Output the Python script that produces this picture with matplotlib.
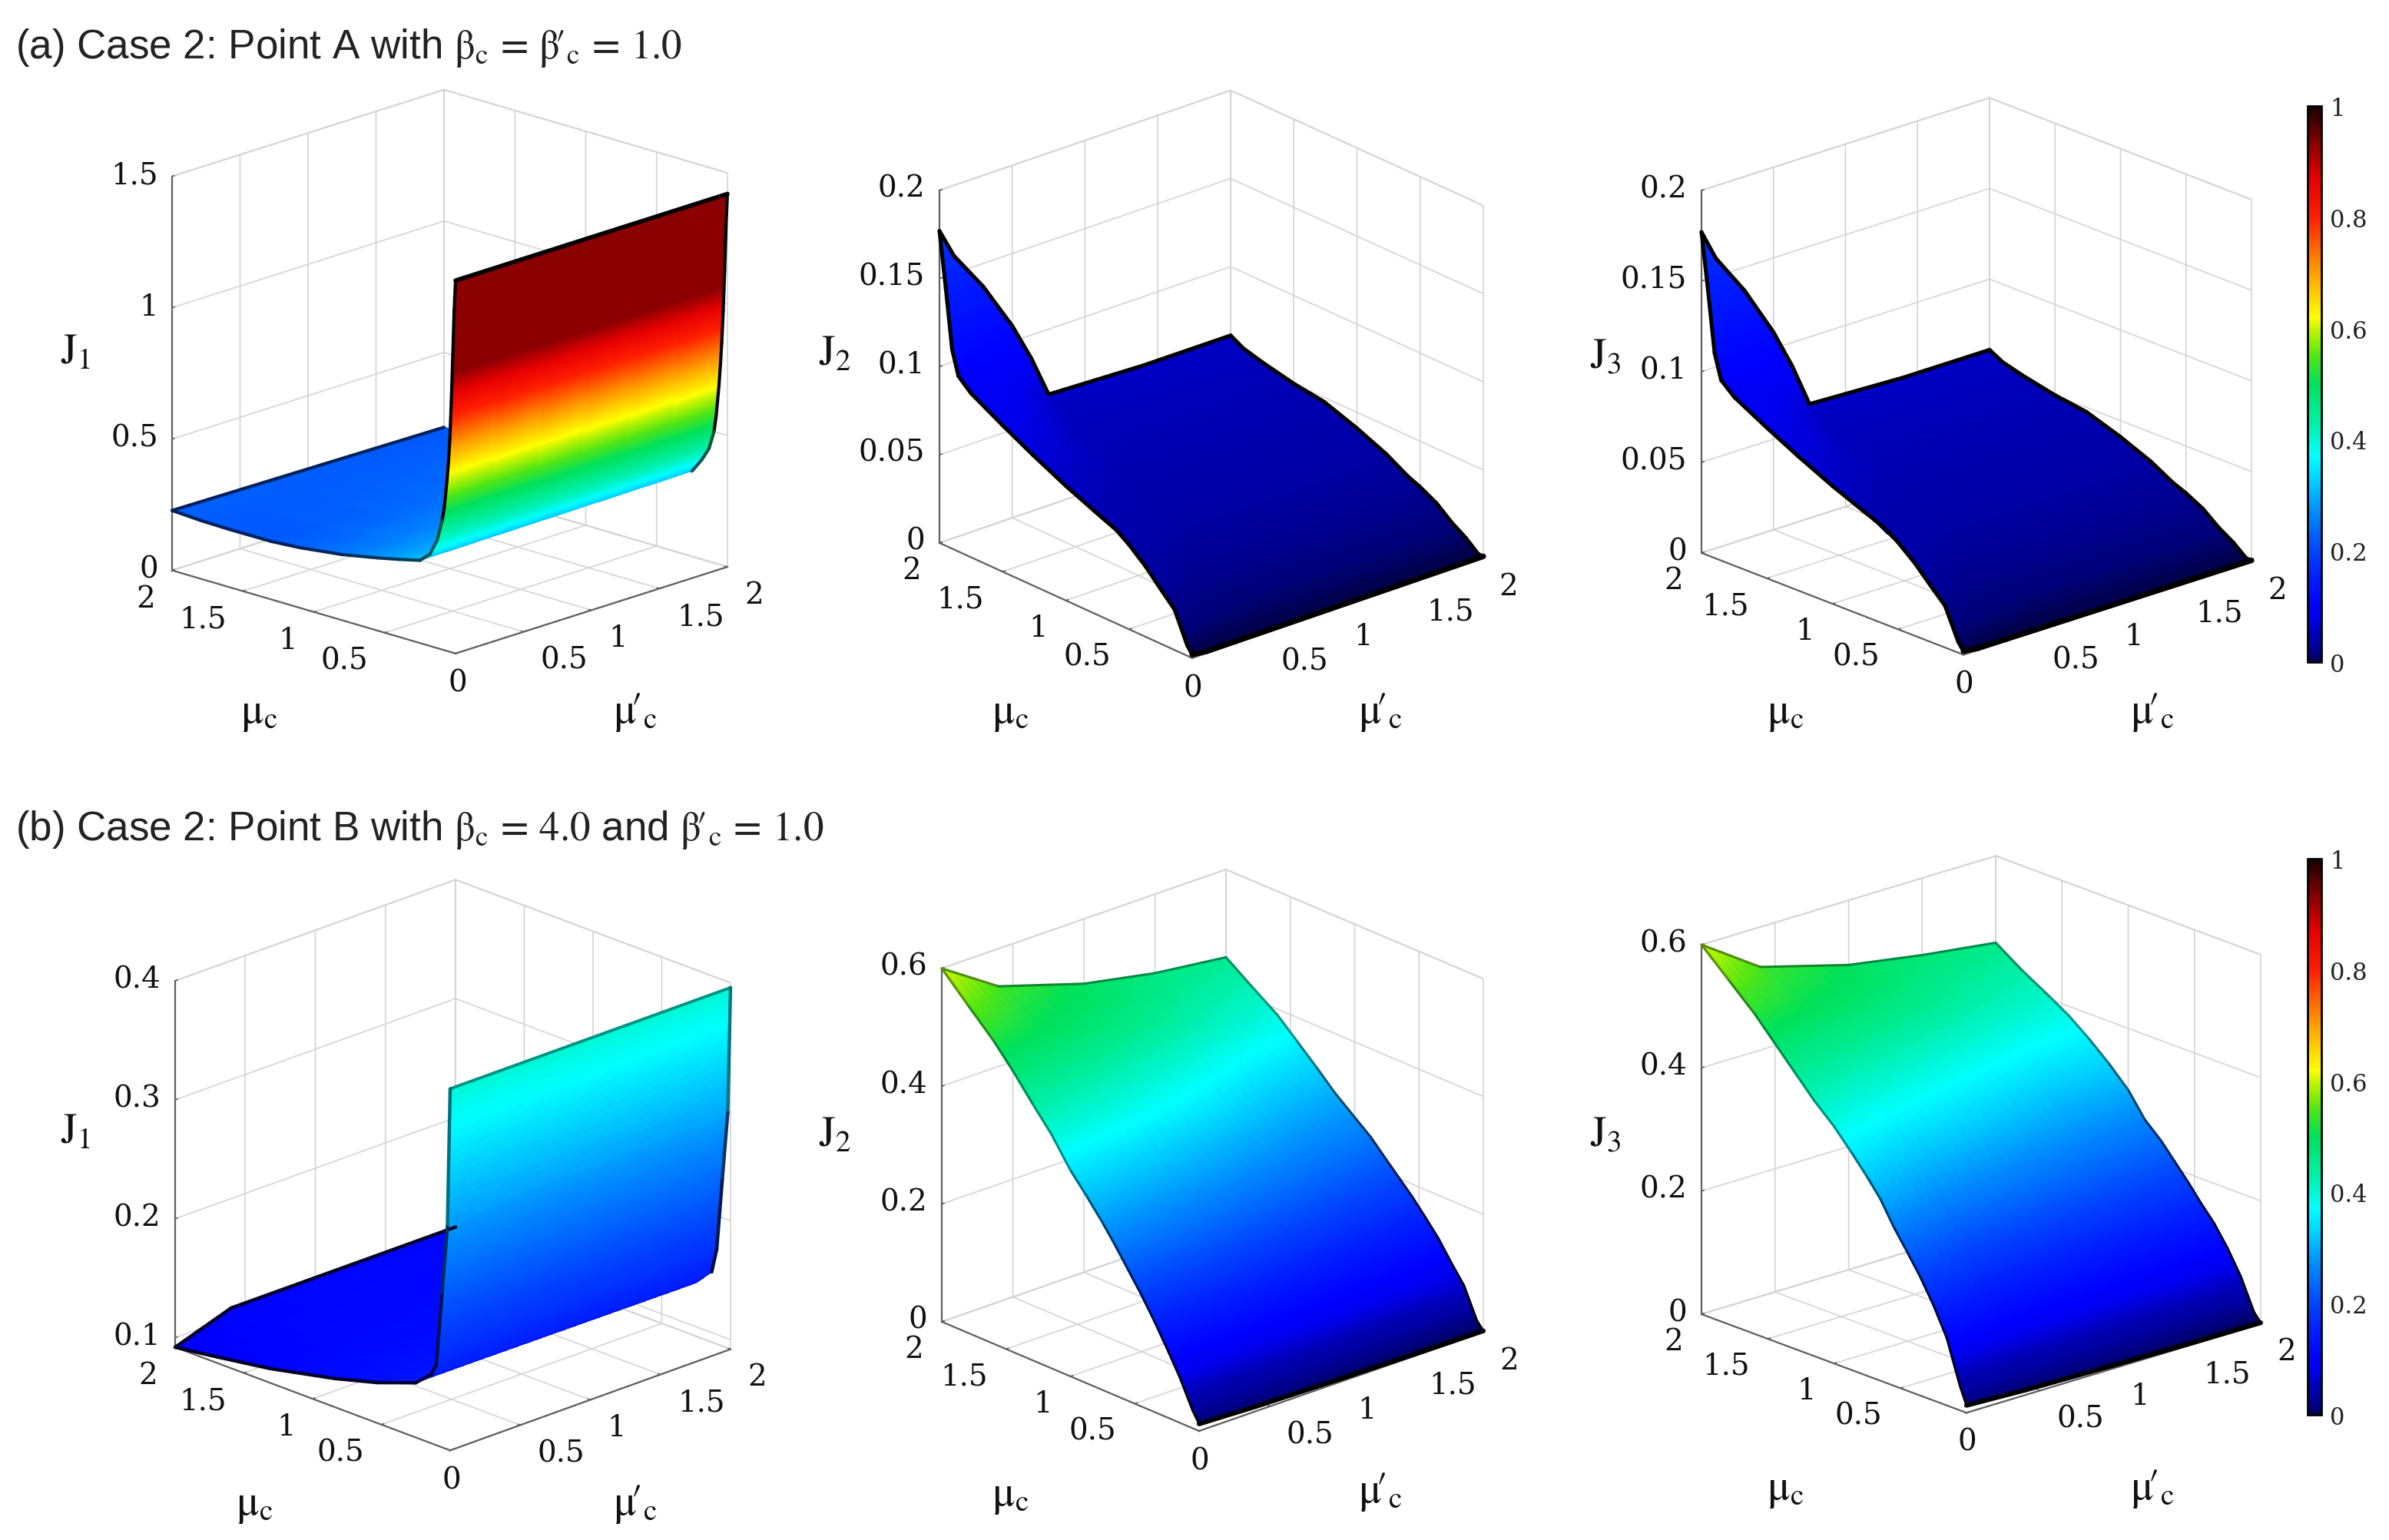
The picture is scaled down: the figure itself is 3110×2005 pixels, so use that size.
import numpy as np
import matplotlib
matplotlib.use("Agg")
import matplotlib.pyplot as plt
from matplotlib.colors import LinearSegmentedColormap, Normalize
from matplotlib.cm import ScalarMappable
from matplotlib.transforms import Affine2D
from mpl_toolkits.mplot3d import proj3d
from mpl_toolkits.mplot3d.art3d import Line3DCollection

plt.rcParams['font.family'] = ['DejaVu Serif', 'Liberation Serif']
plt.rcParams['mathtext.fontset'] = 'stix'

# ---------- data ----------
TITLE_A = r"(a) Case 2: Point A with $\mathrm{\beta_c\,=\,\beta\!\prime_c\,=\,1.0}$"
TITLE_B = r"(b) Case 2: Point B with $\mathrm{\beta_c\,=\,4.0}$ and $\mathrm{\beta\!\prime_c\,=\,1.0}$"

MU_TICKS = [0, 0.5, 1, 1.5, 2]
# both mu axes share the one "0" at the front corner
MU_X_LABELS = ['0', '0.5', '1', '1.5', '2']
MU_Y_LABELS = ['', '0.5', '1', '1.5', '2']

# J1, point A: columns are mu_c' nodes, rows are mu_c nodes
J1A_X = [0, 2]
J1A_Y = [0, 0.01, 0.02, 0.03, 0.04, 0.05, 0.06, 0.08, 0.095, 0.13, 0.18, 0.25, 0.4, 0.55, 0.8, 1.1, 1.3, 1.6, 1.8, 2]
J1A_Z = [[1.42, 1.42], [1.30, 1.30], [1.12, 1.12], [0.95, 0.97], [0.81, 0.85], [0.72, 0.76],
         [0.65, 0.68], [0.54, 0.56], [0.49, 0.50], [0.41, 0.43], [0.35, 0.38], [0.315, 0.325],
         [0.295, 0.305], [0.277, 0.295], [0.25, 0.275], [0.229, 0.255], [0.221, 0.245],
         [0.22, 0.23], [0.222, 0.222], [0.228, 0.215]]

# J2 and J3, point A (same read-off within the accuracy of the picture)
J2A_X = [0, 0.1, 0.3, 0.5, 0.63, 0.75, 1.4, 2]
J2A_Y = [0, 0.04, 0.14, 0.25, 0.37, 0.5, 0.6, 0.77, 1, 1.26, 1.5, 1.75, 1.85, 1.9, 1.95, 2]
J2A_Z = [[.002, .001, .001, .001, .001, .001, .001, .001],
         [.006, .003, .002, .002, .002, .002, .002, .001],
         [.023, .013, .009, .007, .007, .007, .007, .007],
         [.031, .020, .014, .012, .012, .012, .012, .012],
         [.040, .029, .021, .019, .019, .019, .019, .019],
         [.048, .036, .028, .024, .024, .024, .024, .024],
         [.053, .041, .033, .028, .027, .027, .027, .027],
         [.058, .048, .040, .035, .034, .034, .034, .034],
         [.065, .056, .048, .043, .041, .041, .041, .041],
         [.074, .066, .057, .052, .048, .048, .048, .0475],
         [.083, .076, .068, .057, .052, .050, .050, .050],
         [.093, .087, .079, .067, .058, .054, .054, .054],
         [.0995, .093, .085, .073, .063, .056, .056, .056],
         [.113, .100, .090, .077, .066, .057, .057, .057],
         [.146, .125, .105, .085, .070, .059, .059, .059],
         [.177, .160, .137, .109, .087, .063, .061, .061]]

# J1, point B
J1B_X = [0, 0.4, 2]
J1B_Y = [0, 0.02, 0.06, 0.1, 0.137, 0.25, 0.53, 0.84, 1.31, 1.7, 2]
J1B_Z = [[0.396, 0.396, 0.396], [0.279, 0.285, 0.290], [0.220, 0.225, 0.232], [0.160, 0.165, 0.172],
         [0.150, 0.150, 0.151], [0.138, 0.138, 0.137], [0.126, 0.127, 0.128], [0.116, 0.119, 0.122],
         [0.104, 0.110, 0.115], [0.097, 0.108, 0.112], [0.092, 0.108, 0.108]]

# J2, point B
JB_X = [0, 0.4, 1, 1.5, 2]
JB_Y = [0, .05, .15, .25, .35, .45, .55, .65, .75, .875, 1, 1.15, 1.3, 1.45, 1.6, 1.8, 2]
J2B_Z = [[.012, .008, .005, .003, .002],
         [.030, .027, .022, .018, .015],
         [.077, .075, .071, .068, .065],
         [.117, .113, .106, .100, .095],
         [.155, .150, .141, .133, .127],
         [.190, .183, .172, .161, .153],
         [.222, .214, .200, .188, .178],
         [.254, .244, .226, .211, .200],
         [.284, .272, .252, .235, .222],
         [.318, .305, .283, .263, .250],
         [.350, .335, .310, .287, .272],
         [.398, .380, .350, .318, .2985],
         [.437, .417, .385, .350, .330],
         [.478, .455, .420, .385, .360],
         [.515, .490, .455, .420, .390],
         [.557, .512, .480, .445, .420],
         [.600, .536, .490, .466, .451]]

# J3, point B
J3B_Z = [[.012, .008, .005, .003, .002],
         [.040, .030, .024, .018, .015],
         [.110, .090, .076, .070, .065],
         [.155, .130, .115, .107, .103],
         [.193, .165, .150, .140, .135],
         [.226, .195, .180, .170, .160],
         [.258, .230, .212, .197, .187],
         [.295, .262, .240, .222, .212],
         [.323, .290, .265, .248, .237],
         [.355, .325, .298, .278, .262],
         [.385, .355, .330, .306, .300],
         [.415, .390, .360, .340, .332],
         [.450, .425, .395, .370, .360],
         [.485, .460, .430, .400, .385],
         [.520, .495, .460, .430, .405],
         [.560, .515, .485, .450, .430],
         [.600, .535, .495, .475, .459]]

CB_TICKS = [0, 0.2, 0.4, 0.6, 0.8, 1]
CB_LABELS = ['0', '0.2', '0.4', '0.6', '0.8', '1']

# ---------- styles ----------
CMAP_STOPS = [(0, (0, 0, 70)), (.01, (0, 0, 120)), (.03, (0, 0, 160)), (.05, (0, 0, 180)),
              (.08, (0, 0, 240)), (.1, (0, 0, 255)), (.15, (0, 30, 255)),
              (.2, (0, 70, 255)), (.27, (0, 140, 255)), (.33, (0, 210, 255)), (.37, (0, 255, 255)),
              (.43, (0, 240, 170)), (.5, (0, 225, 90)), (.55, (80, 230, 20)), (.6, (200, 245, 0)),
              (.62, (255, 255, 0)), (.7, (255, 160, 0)), (.8, (255, 30, 0)), (.87, (230, 0, 0)),
              (.93, (140, 0, 0)), (1, (25, 0, 0))]
CMAP = LinearSegmentedColormap.from_list(
    'jetdark', [(v, tuple(c / 255 for c in rgb)) for v, rgb in CMAP_STOPS], N=768)
NORM = Normalize(0, 1)

W, H = 3110, 2006
DPI = 200
TICK_FS = 14
LABEL_FS = 20
GRID_C = '#d4d4d4'
AXIS_C = '#606060'

MU_C = r"$\mathrm{\mu_c}$"
MU_CP = r"$\mathrm{\mu\!\prime_c}$"

# colour lookup of the two kinds of J1 wall: (z nodes, colour-value nodes)
CMAP_A1 = ([0, .4, 1.07, 1.5], [0, .4, .93, .93])
CMAP_ID = ([0, 1], [0, 1])

# pixel shifts of the tick labels from where mplot3d puts them
SHIFT_X = (0, 20)
SHIFT_Y = (0, 20)
SHIFT_Z = (26, 20)
SHIFT_0 = (-20, 18)

# layout: pixel positions of box corners (front, left, right, top of left edge) and of the axis labels
PANELS = [
    dict(x=J1A_X, y=J1A_Y, z=J1A_Z, zlim=(0, 1.5), zt=[0, .5, 1, 1.5], ztl=['0', '0.5', '1', '1.5'],
         name='J_1', F=(593, 852), L=(224, 743), R=(947, 740), T=(224, 230), cm=CMAP_A1,
         lw=(2.0, 1.5), edge=0.0, low=(0.5, 0.35), xedge_stop=0.25,
         lab=((337, 928), (827, 928), (99, 458))),
    dict(x=J2A_X, y=J2A_Y, z=J2A_Z, zlim=(0, .2), zt=[0, .05, .1, .15, .2],
         ztl=['0', '0.05', '0.1', '0.15', '0.2'],
         name='J_2', F=(1552, 858), L=(1223, 707), R=(1931, 729), T=(1223, 248), cm=CMAP_ID,
         lw=(2.6, 1.8), edge=0.0, low=None, xedge_stop=2,
         lab=((1315, 928), (1797, 928), (1087, 460))),
    dict(x=J2A_X, y=J2A_Y, z=J2A_Z, zlim=(0, .2), zt=[0, .05, .1, .15, .2],
         ztl=['0', '0.05', '0.1', '0.15', '0.2'],
         name='J_3', F=(2556, 853), L=(2215, 722), R=(2931, 731), T=(2215, 250), cm=CMAP_ID,
         lw=(2.6, 1.8), edge=0.0, low=None, xedge_stop=2,
         lab=((2324, 928), (2802, 928), (2090, 464))),
    dict(x=J1B_X, y=J1B_Y, z=J1B_Z, zlim=(.092, .4), zt=[.1, .2, .3, .4], ztl=['0.1', '0.2', '0.3', '0.4'],
         name='J_1', F=(586, 1889), L=(228, 1756), R=(951, 1756), T=(228, 1279), cm=CMAP_ID,
         lw=(1.4, 1.6), edge=0.6, low=None, xedge_stop=0.2,
         lab=((331, 1959), (827, 1959), (99, 1473))),
    dict(x=JB_X, y=JB_Y, z=J2B_Z, zlim=(0, .6), zt=[0, .2, .4, .6], ztl=['0', '0.2', '0.4', '0.6'],
         name='J_2', F=(1561, 1863), L=(1226, 1725), R=(1931, 1730), T=(1226, 1265), cm=CMAP_ID,
         lw=(2.2, 1.1), edge=0.6, low=None, xedge_stop=2,
         lab=((1315, 1947), (1797, 1943), (1087, 1477))),
    dict(x=JB_X, y=JB_Y, z=J3B_Z, zlim=(0, .6), zt=[0, .2, .4, .6], ztl=['0', '0.2', '0.4', '0.6'],
         name='J_3', F=(2560, 1840), L=(2215, 1713), R=(2943, 1723), T=(2215, 1232), cm=CMAP_ID,
         lw=(2.2, 1.1), edge=0.6, low=None, xedge_stop=2,
         lab=((2324, 1939), (2802, 1939), (2090, 1477))),
]


def shade_mesh(xs, ys, zs, nx=6, ny=16):
    """Gouraud-like colour shading between the typed mesh nodes (MATLAB 'shading interp')."""
    xs, ys, zs = np.asarray(xs, float), np.asarray(ys, float), np.asarray(zs, float)
    xf = np.concatenate([np.linspace(a, b, nx, endpoint=False) for a, b in zip(xs[:-1], xs[1:])] + [[xs[-1]]])
    yf = np.concatenate([np.linspace(a, b, ny, endpoint=False) for a, b in zip(ys[:-1], ys[1:])] + [[ys[-1]]])
    tmp = np.array([np.interp(xf, xs, row) for row in zs])
    zf = np.array([np.interp(yf, ys, col) for col in tmp.T]).T
    return xf, yf, zf


def project(ax, x, y, z):
    px, py, _ = proj3d.proj_transform(x, y, z, ax.get_proj())
    return ax.transData.transform((px, py))


def place(ax, p):
    """Fit the axes rectangle so that the 3-D box falls on the reference's pixel corners."""
    zlo, zhi = p['zlim']
    tgt = {(0, 0, zlo): p['F'], (0, 2, zlo): p['L'], (2, 0, zlo): p['R'], (0, 2, zhi): p['T']}
    ax.apply_aspect()
    a = project(ax, 2, 0, zlo)
    b = project(ax, 0, 2, zlo)
    scale = abs(p['R'][0] - p['L'][0]) / abs(a[0] - b[0])
    pos = ax.get_position(original=True)
    ax.set_position([pos.x0, pos.y0, pos.width * scale, pos.height * scale])
    ax.apply_aspect()
    dx, dy = [], []
    for c, t in tgt.items():
        q = project(ax, *c)
        dx.append(t[0] - q[0])
        dy.append((H - t[1]) - q[1])
    pos = ax.get_position(original=True)
    ax.set_position([pos.x0 + np.mean(dx) / W, pos.y0 + np.mean(dy) / H, pos.width, pos.height])


def nudge(ax, axis, ha, shift, first=None):
    """Anchor an axis's tick labels and shift them by a few pixels.
    mplot3d resets tick-label transforms each time it fetches its ticks, so the shifted one is pinned."""
    for i, tick in enumerate(axis.get_major_ticks()):
        s, a = shift, ha
        if i == 0 and first is not None:
            s, a = first, 'center'
        tick.label1.set_ha(a)
        tick.label1.set_transform(ax.transData + Affine2D().translate(*s))
        tick.label1.set_transform = lambda *_: None


fig = plt.figure(figsize=(W / DPI, H / DPI), dpi=DPI, facecolor='white')

for p in PANELS:
    F, L, R, T = [np.array(p[k], float) for k in 'FLRT']
    hx, vx = R[0] - F[0], F[1] - R[1]
    hy, vy = F[0] - L[0], F[1] - L[1]
    theta = np.arctan2(hx, hy)
    A = np.hypot(hx, hy)
    s = (vx + vy) / (A * (np.cos(theta) + np.sin(theta)))
    elev = np.arcsin(s)
    C = (L[1] - T[1]) / np.cos(elev)

    ax = fig.add_axes([0.1, 0.1, 0.3, 0.3 * W / H], projection='3d', proj_type='ortho',
                      computed_zorder=False)
    ax.view_init(elev=np.degrees(elev), azim=180 + np.degrees(theta))
    ax.set_box_aspect((A, A, C))
    ax.patch.set_alpha(0)
    ax.set_xlim(0, 2)
    ax.set_ylim(0, 2)
    ax.set_zlim(*p['zlim'])

    xf, yf, zf = shade_mesh(p['x'], p['y'], p['z'])
    XF, YF = np.meshgrid(xf, yf)
    faces = CMAP(NORM(np.interp(zf, *p['cm'])))
    ax.plot_surface(XF, YF, zf, facecolors=faces, rstride=1, cstride=1, shade=False,
                    antialiased=False, linewidth=0, zorder=1)

    # dark rim of the surface
    xn, yn, zn = np.asarray(p['x'], float), np.asarray(p['y'], float), np.asarray(p['z'], float)
    rims = [(np.c_[xn, yn[0] * np.ones_like(xn), zn[0]], p['lw'][0]),
            (np.c_[xn, yn[-1] * np.ones_like(xn), zn[-1]], p['lw'][1]),
            (np.c_[xn[0] * np.ones_like(yn), yn, zn[:, 0]], p['lw'][1])]
    keep = yn <= p['xedge_stop']
    rims.append((np.c_[xn[-1] * np.ones(keep.sum()), yn[keep], zn[keep, -1]], p['lw'][1]))
    for pts, lw in rims:
        segs = np.stack([pts[:-1], pts[1:]], axis=1)
        mid = np.minimum(0.5 * (pts[:-1, 2] + pts[1:, 2]), 1)
        cols = CMAP(NORM(mid))
        k = np.minimum(p['edge'], mid * 1.5)
        if p['low'] is not None:
            k = np.where(mid < p['low'][0], p['low'][1], k)
        cols[:, :3] = cols[:, :3] * k[:, None]
        ax.add_collection3d(Line3DCollection(segs, colors=cols, linewidths=lw, zorder=2, capstyle='round'))

    ax.set_xticks(MU_TICKS, MU_X_LABELS)
    ax.set_yticks(MU_TICKS, MU_Y_LABELS)
    ax.set_zticks(p['zt'], p['ztl'])
    for axis in (ax.xaxis, ax.yaxis, ax.zaxis):
        axis.set_pane_color((1, 1, 1, 1))
        axis.pane.set_edgecolor(GRID_C)
        axis.pane.set_linewidth(0.7)
        axis.line.set_color(AXIS_C)
        axis.line.set_linewidth(0.8)
        axis._axinfo['grid'].update(color=GRID_C, linewidth=0.6)
        axis._axinfo['tick'].update(inward_factor=0.0, outward_factor=0.10, linewidth={True: 0.6, False: 0.6})
        axis.set_tick_params(labelsize=TICK_FS, pad=2, colors='#111111', color=AXIS_C)
    place(ax, p)
    nudge(ax, ax.xaxis, 'left', SHIFT_X, first=SHIFT_0)
    nudge(ax, ax.yaxis, 'right', SHIFT_Y)
    nudge(ax, ax.zaxis, 'right', SHIFT_Z)

    for txt, (lx, ly) in zip((MU_C, MU_CP, r"$\mathrm{" + p['name'] + "}$"), p['lab']):
        fig.text(lx / W, 1 - ly / H, txt, fontsize=LABEL_FS, ha='center', va='center', color='#111111')

for txt, yc in ((TITLE_A, 62), (TITLE_B, 1080)):
    fig.text(20 / W, 1 - yc / H, txt, fontsize=19.1, family=['Liberation Sans', 'DejaVu Sans'],
             va='center', ha='left', color='#222222')

for y0, y1 in ((139, 863), (1119, 1843)):
    cax = fig.add_axes([3004 / W, 1 - y1 / H, 18 / W, (y1 - y0) / H])
    cb = fig.colorbar(ScalarMappable(norm=NORM, cmap=CMAP), cax=cax, ticks=CB_TICKS)
    cb.ax.set_yticklabels(CB_LABELS, fontsize=11, color='#222222')
    cb.ax.tick_params(length=0, pad=4)
    cb.outline.set_edgecolor('black')
    cb.outline.set_linewidth(1.0)

fig.savefig('out.png', dpi=DPI, facecolor='white')
